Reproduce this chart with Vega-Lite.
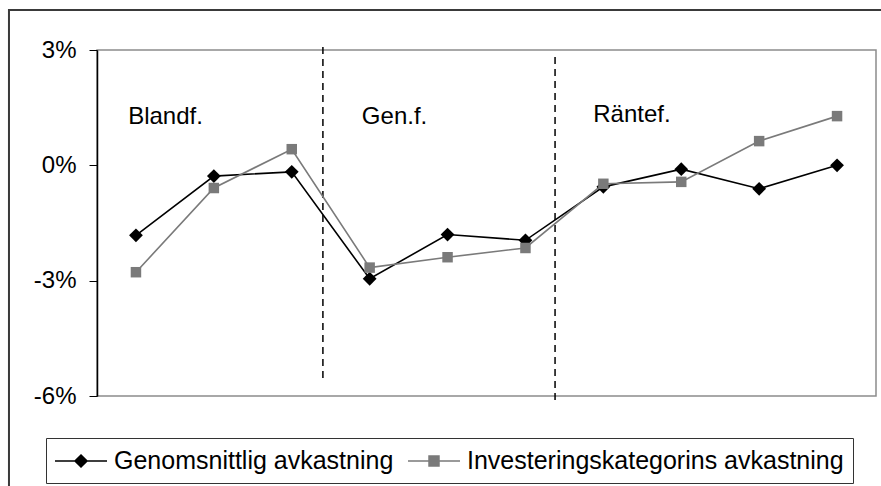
{
  "$schema": "https://vega.github.io/schema/vega-lite/v6.json",
  "autosize": "none",
  "width": 779,
  "height": 346,
  "padding": {"left": 97, "top": 50, "right": 5, "bottom": 90},
  "background": "white",
  "config": {
    "view": {"stroke": "#8c8c8c", "strokeWidth": 1.5},
    "font": "Liberation Sans"
  },
  "datasets": {
    "returns": [
      {"k": 1, "series": "Genomsnittlig avkastning", "v": -0.0182},
      {"k": 2, "series": "Genomsnittlig avkastning", "v": -0.0028},
      {"k": 3, "series": "Genomsnittlig avkastning", "v": -0.0017},
      {"k": 4, "series": "Genomsnittlig avkastning", "v": -0.0295},
      {"k": 5, "series": "Genomsnittlig avkastning", "v": -0.0180},
      {"k": 6, "series": "Genomsnittlig avkastning", "v": -0.0195},
      {"k": 7, "series": "Genomsnittlig avkastning", "v": -0.0056},
      {"k": 8, "series": "Genomsnittlig avkastning", "v": -0.0010},
      {"k": 9, "series": "Genomsnittlig avkastning", "v": -0.0061},
      {"k": 10, "series": "Genomsnittlig avkastning", "v": 0.0},
      {"k": 1, "series": "Investeringskategorins avkastning", "v": -0.0278},
      {"k": 2, "series": "Investeringskategorins avkastning", "v": -0.0059},
      {"k": 3, "series": "Investeringskategorins avkastning", "v": 0.0042},
      {"k": 4, "series": "Investeringskategorins avkastning", "v": -0.0266},
      {"k": 5, "series": "Investeringskategorins avkastning", "v": -0.0239},
      {"k": 6, "series": "Investeringskategorins avkastning", "v": -0.0215},
      {"k": 7, "series": "Investeringskategorins avkastning", "v": -0.0048},
      {"k": 8, "series": "Investeringskategorins avkastning", "v": -0.0043},
      {"k": 9, "series": "Investeringskategorins avkastning", "v": 0.0063},
      {"k": 10, "series": "Investeringskategorins avkastning", "v": 0.0128}
    ],
    "frame": [{"x": -0.63, "x2": 11.5, "y": 0.0404, "y2": -0.1}],
    "gridlines": [{"v": 0.0}, {"v": -0.03}],
    "dividers": [
      {"k": 3.4, "top": 0.0308, "bottom": -0.0566},
      {"k": 6.38, "top": 0.0282, "bottom": -0.0618}
    ],
    "groups": [
      {"k": 0.9, "v": 0.0125, "name": "Blandf."},
      {"k": 3.9, "v": 0.0125, "name": "Gen.f."},
      {"k": 6.87, "v": 0.013, "name": "Räntef."}
    ]
  },
  "encoding": {
    "x": {
      "field": "k", "type": "quantitative",
      "scale": {"domain": [0.5, 10.5], "nice": false, "zero": false},
      "axis": null
    }
  },
  "layer": [
    {
      "data": {"name": "frame"},
      "mark": {"type": "rect", "fill": null, "stroke": "#3a3a3a", "strokeWidth": 2, "clip": false},
      "encoding": {
        "x": {"field": "x", "type": "quantitative"},
        "x2": {"field": "x2"},
        "y": {"field": "y", "type": "quantitative"},
        "y2": {"field": "y2"}
      }
    },
    {
      "data": {"name": "gridlines"},
      "mark": {"type": "rule", "color": "black", "strokeWidth": 1},
      "encoding": {
        "y": {"field": "v", "type": "quantitative"}
      }
    },
    {
      "data": {"name": "dividers"},
      "mark": {"type": "rule", "color": "black", "strokeWidth": 1.5, "strokeDash": [7, 5], "clip": false},
      "encoding": {
        "y": {"field": "top", "type": "quantitative"},
        "y2": {"field": "bottom"}
      }
    },
    {
      "data": {"name": "groups"},
      "mark": {"type": "text", "align": "left", "baseline": "middle", "fontSize": 24, "font": "Liberation Sans", "color": "black"},
      "encoding": {
        "y": {"field": "v", "type": "quantitative"},
        "text": {"field": "name"}
      }
    },
    {
      "data": {"name": "returns"},
      "mark": {"type": "line", "strokeWidth": 1.6},
      "encoding": {
        "y": {
          "field": "v", "type": "quantitative",
          "scale": {"domain": [-0.06, 0.03], "nice": false, "zero": false},
          "axis": {
            "values": [-0.06, -0.03, 0, 0.03],
            "format": ".0%",
            "labelExpr": "replace(datum.label, '\u2212', '-')",
            "title": null,
            "grid": false,
            "domainColor": "black",
            "domainWidth": 1.5,
            "tickColor": "black",
            "tickSize": 8,
            "labelPadding": 13,
            "labelFont": "Liberation Sans",
            "labelFontSize": 24,
            "labelColor": "black"
          }
        },
        "color": {
          "field": "series", "type": "nominal",
          "scale": {
            "domain": ["Genomsnittlig avkastning", "Investeringskategorins avkastning"],
            "range": ["#000000", "#7a7a7a"]
          },
          "legend": {
            "title": null,
            "orient": "none",
            "direction": "horizontal",
            "legendX": -51,
            "legendY": 388,
            "padding": 9,
            "strokeColor": "#333333",
            "fillColor": "white",
            "labelFont": "Liberation Sans",
            "labelFontSize": 25,
            "labelColor": "black",
            "labelLimit": 0,
            "symbolSize": 676,
            "symbolOffset": 12,
            "labelOffset": 19,
            "columnPadding": 10,
            "symbolStrokeWidth": 1.6,
            "encode": {
              "symbols": {
                "update": {
                  "shape": {"signal": "datum.value === 'Genomsnittlig avkastning' ? 'M-2,0H2M0,-0.46L0.46,0L0,0.46L-0.46,0Z' : 'M-2,0H2M-0.38,-0.38H0.38V0.38H-0.38Z'"},
                  "fill": {"scale": "color", "field": "value"},
                  "stroke": {"scale": "color", "field": "value"}
                }
              }
            }
          }
        }
      }
    },
    {
      "data": {"name": "returns"},
      "mark": {"type": "point", "filled": true, "opacity": 1},
      "encoding": {
        "y": {"field": "v", "type": "quantitative"},
        "color": {"field": "series", "type": "nominal"},
        "shape": {
          "field": "series", "type": "nominal",
          "scale": {"range": ["diamond", "square"]},
          "legend": null
        },
        "size": {
          "field": "series", "type": "nominal",
          "scale": {"range": [190, 110]},
          "legend": null
        }
      }
    }
  ]
}
